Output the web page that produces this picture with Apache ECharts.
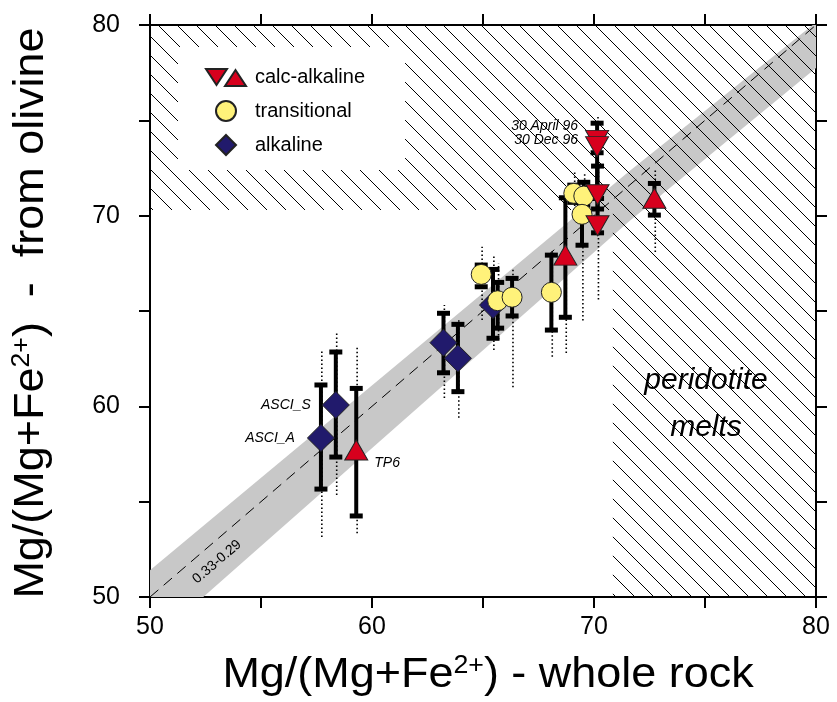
<!DOCTYPE html>
<html>
<head>
<meta charset="utf-8">
<script src="https://cdn.jsdelivr.net/npm/echarts@6/dist/echarts.min.js"></script>
<style>
  html, body { margin: 0; padding: 0; background: #fff; }
  #chart { width: 837px; height: 702px; }
</style>
</head>
<body>
<div id="chart"></div>
<script>
// ---- Samples: whole-rock Mg# (x), Mg# of melt from olivine (y),
// ---- error bar (lo/hi) and spread of individual olivine analyses (spread lo/hi)

// calc-alkaline, up triangles
const calcUpNames    = ['TP6', '', ''];
const calcUpX        = [59.29, 68.71, 72.72];
const calcUpY        = [57.71, 67.93, 70.91];
const calcUpErrLo    = [54.25, 64.67, 70.03];
const calcUpErrHi    = [60.94, 70.94, 71.69];
const calcUpSprLo    = [53.34, 62.80, 68.10];
const calcUpSprHi    = [63.13, 71.30, 72.50];

// calc-alkaline, down triangles
const calcDownNames  = ['30 April 96', '30 Dec 96', '', ''];
const calcDownX      = [70.14, 70.14, 70.16, 70.16];
const calcDownY      = [73.95, 73.62, 71.10, 69.47];
const calcDownErrLo  = [73.30, 71.30, 70.35, 69.10];
const calcDownErrHi  = [74.85, 74.20, 72.60, 70.90];
const calcDownSprLo  = [73.00, 71.00, 69.50, 65.60];
const calcDownSprHi  = [75.20, 75.00, 72.50, 71.00];

// transitional
const transX         = [64.92, 65.66, 66.31, 68.08, 69.09, 69.54, 69.46];
const transY         = [66.92, 65.54, 65.72, 65.98, 71.17, 71.03, 70.07];
const transErrLo     = [66.27, 64.10, 64.74, 64.00, 70.70, 70.50, 68.45];
const transErrHi     = [67.41, 66.50, 66.71, 67.93, 71.60, 71.75, 70.70];
const transSprLo     = [64.53, 63.50, 61.00, 62.60, 70.30, 70.20, 64.50];
const transSprHi     = [68.37, 67.50, 67.25, 68.20, 72.40, 72.30, 71.00];

// alkaline
const alkNames       = ['ASCI_A', 'ASCI_S', '', '', ''];
const alkX           = [57.70, 58.37, 63.22, 63.87, 65.45];
const alkY           = [58.34, 60.07, 63.34, 62.52, 65.31];
const alkErrLo       = [55.66, 57.34, 61.76, 60.77, 63.57];
const alkErrHi       = [61.12, 62.85, 64.88, 64.30, 67.18];
const alkSprLo       = [53.15, 55.35, 60.44, 59.40, 62.95];
const alkSprHi       = [62.95, 63.84, 65.31, 64.53, 67.93];

// equilibrium band (Kd 0.33-0.29) edges and 1:1 line
const bandUpperX = [50, 71.56, 79.85];
const bandUpperY = [51.4, 72.3, 80];
const bandLowerX = [52.4, 71.56, 80];
const bandLowerY = [50, 69.68, 77.75];
const bandLabel  = '0.33-0.29';
const oneToOneX  = [50, 80];
const oneToOneY  = [50, 80];

// hatched fields: [xMin, yMin, xMax, yMax]
const hatchFields = [[50, 70.3, 80, 80], [70.85, 50, 80, 70.3]];

// axes
const axisMin = 50, axisMax = 80, tickStep = 5;

// ---- styling
const FONT = '"Liberation Sans", Arial, Helvetica, sans-serif';
const RED = '#d7001d', YELLOW = '#fff27a', NAVY = '#211a6c', EDGE = '#222';
const DOWN_TRI = 'path://M0,0 L20,0 L10,17.4 Z';
const CALC_ICON = 'path://M0,0 M48,20 M4,2 L25,2 L14.5,18 Z M23,19 L33.5,3 L44,19 Z';
const DIAMOND_ICON = 'path://M0,-1 M48,21 M24,-1 L35,10 L24,21 L13,10 Z';

const labelPlacement = {
  'ASCI_A': { position: 'left', distance: 12 },
  'ASCI_S': { position: 'left', distance: 11 },
  'TP6': { position: 'right', distance: 6, offset: [0, 13] },
  '30 April 96': { position: 'left', distance: 7, offset: [0, -14] },
  '30 Dec 96': { position: 'left', distance: 7, offset: [0, -7] }
};

function points(xs, ys, names) {
  return xs.map(function (x, i) {
    const item = { value: [x, ys[i]] };
    const n = names && names[i];
    if (n) {
      item.name = n;
      item.label = Object.assign({
        show: true, formatter: '{b}', color: '#000', fontSize: 14,
        fontStyle: 'italic', fontFamily: FONT
      }, labelPlacement[n]);
    }
    return item;
  });
}

const groups = [
  [alkX, alkErrLo, alkErrHi, alkSprLo, alkSprHi],
  [transX, transErrLo, transErrHi, transSprLo, transSprHi],
  [calcUpX, calcUpErrLo, calcUpErrHi, calcUpSprLo, calcUpSprHi],
  [calcDownX, calcDownErrLo, calcDownErrHi, calcDownSprLo, calcDownSprHi]
];
const errorData = [], spreadData = [];
groups.forEach(function (g) {
  g[0].forEach(function (x, i) {
    errorData.push([x, g[1][i], g[2][i]]);
    spreadData.push([x, g[3][i], g[4][i]]);
  });
});

function hatchCanvas(step) {
  const c = document.createElement('canvas');
  c.width = step; c.height = step;
  const g = c.getContext('2d');
  g.strokeStyle = '#000';
  g.lineWidth = 1;
  g.beginPath();
  for (let k = -1; k <= 1; k++) {
    g.moveTo(k * step - 1, -1);
    g.lineTo(k * step + step + 1, step + 1);
  }
  g.stroke();
  return c;
}
const hatchFill = { image: hatchCanvas(19), repeat: 'repeat' };

function renderErrorBar(params, api) {
  const x = api.value(0);
  const pLo = api.coord([x, api.value(1)]);
  const pHi = api.coord([x, api.value(2)]);
  const cw = 13, ch = 5;
  return {
    type: 'group',
    children: [
      { type: 'line', shape: { x1: pLo[0], y1: pLo[1], x2: pHi[0], y2: pHi[1] },
        style: { stroke: '#000', lineWidth: 4 } },
      { type: 'rect', shape: { x: pHi[0] - cw / 2, y: pHi[1] - ch / 2, width: cw, height: ch },
        style: { fill: '#000' } },
      { type: 'rect', shape: { x: pLo[0] - cw / 2, y: pLo[1] - ch / 2, width: cw, height: ch },
        style: { fill: '#000' } }
    ]
  };
}

function renderSpread(params, api) {
  const x = api.value(0);
  const pLo = api.coord([x, api.value(1)]);
  const pHi = api.coord([x + 0.04, api.value(2)]);
  return {
    type: 'line',
    shape: { x1: pHi[0], y1: pLo[1], x2: pHi[0], y2: pHi[1] },
    style: { stroke: '#000', lineWidth: 1.6, lineDash: [1.5, 2.5] }
  };
}

function renderBand(params, api) {
  const pts = [];
  bandUpperX.forEach(function (x, i) { pts.push(api.coord([x, bandUpperY[i]])); });
  pts.push(api.coord([axisMax, axisMax]));
  for (let i = bandLowerX.length - 1; i >= 0; i--) pts.push(api.coord([bandLowerX[i], bandLowerY[i]]));
  pts.push(api.coord([axisMin, axisMin]));
  const lp = api.coord([53.02, 51.84]);
  const a = api.coord([50, 50]), b = api.coord([80, 80]);
  const ang = Math.atan2(a[1] - b[1], b[0] - a[0]);
  return {
    type: 'group',
    children: [
      { type: 'polygon', shape: { points: pts }, style: { fill: '#c8c8c8' } },
      { type: 'text', x: lp[0], y: lp[1], rotation: ang,
        style: { text: bandLabel, fill: '#000', fontSize: 14, fontFamily: FONT,
                 align: 'center', verticalAlign: 'middle' } }
    ]
  };
}

function renderHatch(params, api) {
  const p0 = api.coord([api.value(0), api.value(3)]);
  const p1 = api.coord([api.value(2), api.value(1)]);
  return {
    type: 'rect',
    shape: { x: p0[0], y: p0[1], width: p1[0] - p0[0], height: p1[1] - p0[1] },
    style: { fill: hatchFill }
  };
}

const tickLabel = function (v) { return v % 10 === 0 ? String(v) : ''; };
function valueAxis(pos, showLabels, margin) {
  return {
    type: 'value', position: pos, min: axisMin, max: axisMax, interval: tickStep,
    axisLine: { show: true, onZero: false, lineStyle: { color: '#000', width: 2 } },
    axisTick: { show: true, inside: false, length: 11, lineStyle: { color: '#000', width: 2 } },
    axisLabel: { show: showLabels, formatter: tickLabel, color: '#000', fontSize: 25,
                 fontFamily: FONT, margin: margin || 8 },
    splitLine: { show: false }
  };
}

const chart = echarts.init(document.getElementById('chart'), null, { renderer: 'canvas' });
chart.setOption({
  animation: false,
  backgroundColor: '#fff',
  grid: { left: 150, right: 21, top: 25, bottom: 105 },
  xAxis: [valueAxis('bottom', true, 18), valueAxis('top', false)],
  yAxis: [valueAxis('left', true, 30), valueAxis('right', false)],
  legend: {
    orient: 'vertical', left: 178, top: 47,
    backgroundColor: '#fff', padding: [19, 40, 14, 23],
    itemGap: 12, itemWidth: 48, itemHeight: 20,
    selectedMode: false,
    textStyle: { fontSize: 20, color: '#000', fontFamily: FONT },
    data: [
      { name: 'calc-alkaline', icon: CALC_ICON },
      { name: 'transitional', icon: 'circle' },
      { name: 'alkaline', icon: DIAMOND_ICON }
    ]
  },
  graphic: [
    { type: 'text', x: 488, y: 675, scaleX: 1.07, z: 10,
      style: { text: 'Mg/(Mg+Fe{sup|2+}) - whole rock', fill: '#000', fontSize: 42, fontFamily: FONT,
               align: 'center', verticalAlign: 'middle',
               rich: { sup: { fontSize: 25, fontFamily: FONT, fill: '#000', verticalAlign: 'top' } } } },
    { type: 'text', x: 31, y: 313, rotation: Math.PI / 2, scaleX: 1.07, z: 10,
      style: { text: 'Mg/(Mg+Fe{sup|2+})  -  from olivine', fill: '#000', fontSize: 42, fontFamily: FONT,
               align: 'center', verticalAlign: 'middle',
               rich: { sup: { fontSize: 25, fontFamily: FONT, fill: '#000', verticalAlign: 'top' } } } },
    { type: 'text', x: 706, y: 404, z: 10,
      style: { text: 'peridotite\nmelts', fill: '#000', fontSize: 30, fontStyle: 'italic', fontFamily: FONT,
               lineHeight: 47, align: 'center', verticalAlign: 'middle' } }
  ],
  series: [
    { type: 'custom', name: 'band', silent: true, z: 1, clip: true,
      renderItem: renderBand, data: [[axisMin, axisMin]], encode: { x: 0, y: 1 } },
    { type: 'custom', name: 'hatch', silent: true, z: 2, clip: true,
      renderItem: renderHatch, data: hatchFields, encode: { x: [0, 2], y: [1, 3] } },
    { type: 'line', name: '1:1', silent: true, z: 3, symbol: 'none',
      data: oneToOneX.map(function (x, i) { return [x, oneToOneY[i]]; }),
      lineStyle: { color: '#000', width: 1, type: [11, 7] } },
    { type: 'custom', name: 'spread', silent: true, z: 3,
      renderItem: renderSpread, data: spreadData, encode: { x: 0, y: [1, 2] } },
    { type: 'custom', name: 'error', silent: true, z: 4,
      renderItem: renderErrorBar, data: errorData, encode: { x: 0, y: [1, 2] } },
    { type: 'scatter', name: 'calc-alkaline', z: 7, symbol: 'triangle', symbolSize: [23, 20],
      itemStyle: { color: RED, borderColor: EDGE, borderWidth: 1, opacity: 1 },
      emphasis: { disabled: true },
      data: points(calcUpX, calcUpY, calcUpNames) },
    { type: 'scatter', name: 'calc-alkaline', z: 8, symbol: DOWN_TRI, symbolSize: [23, 20], symbolKeepAspect: false,
      itemStyle: { color: RED, borderColor: EDGE, borderWidth: 1, opacity: 1 },
      emphasis: { disabled: true },
      data: points(calcDownX, calcDownY, calcDownNames) },
    { type: 'scatter', name: 'transitional', z: 6, symbol: 'circle', symbolSize: 20,
      itemStyle: { color: YELLOW, borderColor: EDGE, borderWidth: 1, opacity: 1 },
      emphasis: { disabled: true },
      data: points(transX, transY, null) },
    { type: 'scatter', name: 'alkaline', z: 5, symbol: 'diamond', symbolSize: 27,
      itemStyle: { color: NAVY, borderColor: EDGE, borderWidth: 1, opacity: 1 },
      emphasis: { disabled: true },
      data: points(alkX, alkY, alkNames) }
  ]
});
</script>
</body>
</html>
